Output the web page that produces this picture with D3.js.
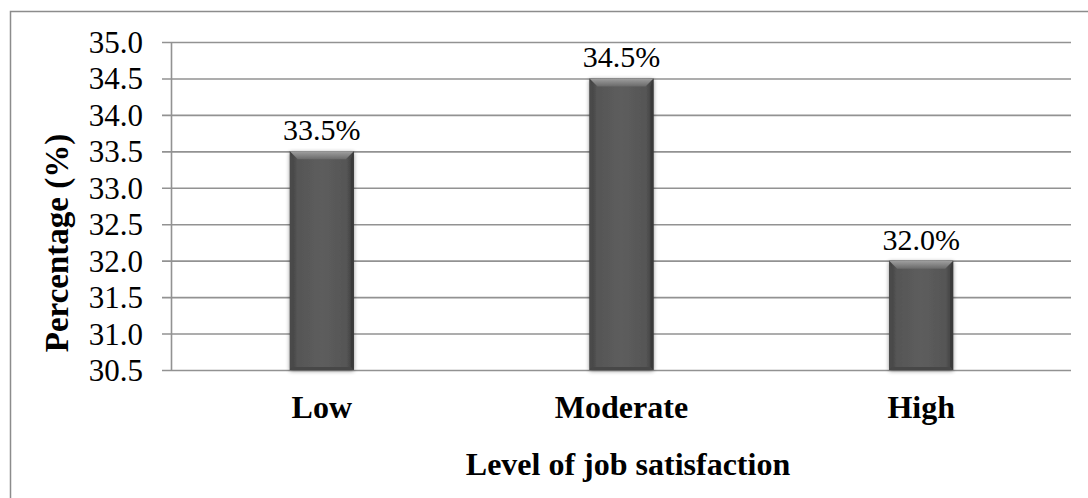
<!DOCTYPE html>
<html>
<head>
<meta charset="utf-8">
<script src="https://cdn.jsdelivr.net/npm/d3@7/dist/d3.min.js"></script>
<style>
  html, body { margin: 0; padding: 0; background: #fff; }
  svg text { font-family: "Liberation Serif", "Times New Roman", "DejaVu Serif", serif; }
</style>
</head>
<body>
<svg id="chart" width="1088" height="498"></svg>
<script>
// Job satisfaction levels and their share of respondents (%)
const categories = ["Low", "Moderate", "High"];
const percentages = [33.5, 34.5, 32.0];
const yTicks = [30.5, 31.0, 31.5, 32.0, 32.5, 33.0, 33.5, 34.0, 34.5, 35.0];

const svg = d3.select("#chart");
const W = 1088, H = 498;
const plot = { left: 172, right: 1071, top: 42, bottom: 370 };
const SERIF = "'Liberation Serif', 'Times New Roman', 'DejaVu Serif', serif";

// Frame around the chart area (left and top edges sit inside the canvas)
svg.append("path")
  .attr("d", `M10.5,${H} L10.5,11.5 L${W},11.5`)
  .attr("fill", "none").attr("stroke", "#8c8c8c").attr("stroke-width", 1.5);

const x = d3.scaleBand().domain(categories).range([plot.left, plot.right]).padding(0);
const y = d3.scaleLinear().domain([30.5, 35.0]).range([plot.bottom, plot.top]);

const defs = svg.append("defs");
const body = defs.append("linearGradient").attr("id", "barBody").attr("x1", "0").attr("x2", "1").attr("y1", "0").attr("y2", "0");
[[0, "#3e3e3e"], [0.12, "#565656"], [0.5, "#5d5d5d"], [0.88, "#565656"], [1, "#3c3c3c"]]
  .forEach(([o, c]) => body.append("stop").attr("offset", o).attr("stop-color", c));
const topGrad = defs.append("linearGradient").attr("id", "barTop").attr("x1", "0").attr("x2", "0").attr("y1", "0").attr("y2", "1");
[[0, "#a0a0a0"], [1, "#6a6a6a"]].forEach(([o, c]) => topGrad.append("stop").attr("offset", o).attr("stop-color", c));
const shadow = defs.append("filter").attr("id", "barShadow").attr("x", "-30%").attr("y", "-10%").attr("width", "160%").attr("height", "120%");
shadow.append("feGaussianBlur").attr("in", "SourceAlpha").attr("stdDeviation", 2.2).attr("result", "b");
shadow.append("feOffset").attr("in", "b").attr("dx", 0).attr("dy", 1).attr("result", "o");
shadow.append("feComponentTransfer").attr("in", "o").attr("result", "s")
  .append("feFuncA").attr("type", "linear").attr("slope", 0.45);
const merge = shadow.append("feMerge");
merge.append("feMergeNode").attr("in", "s");
merge.append("feMergeNode").attr("in", "SourceGraphic");

// Horizontal gridlines with short ticks left of the axis
const yAxis = d3.axisLeft(y).tickValues(yTicks).tickFormat(d3.format(".1f"))
  .tickSize(-(plot.right - plot.left)).tickPadding(0);
const gy = svg.append("g").attr("transform", `translate(${plot.left},0)`).call(yAxis);
gy.attr("font-family", null);
gy.select(".domain").remove();
gy.selectAll(".tick line").attr("x1", -10).attr("stroke", "#929292").attr("stroke-width", 1.6);
gy.selectAll(".tick text")
  .attr("x", -29).attr("dy", "0.34em")
  .style("font-family", SERIF).style("font-size", "31px").style("font-weight", "400")
  .attr("fill", "#000");

// Vertical axis line
svg.append("line").attr("x1", plot.left - 0.5).attr("x2", plot.left - 0.5)
  .attr("y1", plot.top).attr("y2", plot.bottom)
  .attr("stroke", "#929292").attr("stroke-width", 1.6);

// Bars
const barW = 64, bev = 8, side = 3;
const bars = svg.append("g").selectAll("g.bar").data(categories).join("g").attr("class", "bar");
bars.each(function (c, i) {
  const g = d3.select(this);
  const cx = x(c) + x.bandwidth() / 2;
  const x0 = cx - barW / 2, x1 = cx + barW / 2;
  const y0 = y(percentages[i]), y1 = y(30.5);
  g.append("rect").attr("x", x0).attr("y", y0).attr("width", barW).attr("height", y1 - y0)
    .attr("fill", "url(#barBody)").attr("filter", "url(#barShadow)");
  // top bevel
  g.append("path")
    .attr("d", `M${x0},${y0} L${x1},${y0} L${x1 - bev},${y0 + bev} L${x0 + bev},${y0 + bev} Z`)
    .attr("fill", "url(#barTop)");
  // side bevels
  g.append("path")
    .attr("d", `M${x0},${y0} L${x0 + side},${y0 + bev} L${x0 + side},${y1 - side} L${x0},${y1} Z`)
    .attr("fill", "#4a4a4a");
  g.append("path")
    .attr("d", `M${x1},${y0} L${x1 - side},${y0 + bev} L${x1 - side},${y1 - side} L${x1},${y1} Z`)
    .attr("fill", "#3a3a3a");
  // bottom bevel
  g.append("path")
    .attr("d", `M${x0},${y1} L${x0 + side},${y1 - side} L${x1 - side},${y1 - side} L${x1},${y1} Z`)
    .attr("fill", "#474747");
  // value label
  g.append("text").attr("x", cx).attr("y", y0 - 11)
    .attr("text-anchor", "middle").style("font-size", "30px").style("font-weight", "400").attr("fill", "#000")
    .text(d3.format(".1f")(percentages[i]) + "%");
});

// Category labels
svg.append("g").selectAll("text").data(categories).join("text")
  .attr("x", d => x(d) + x.bandwidth() / 2).attr("y", 418)
  .attr("text-anchor", "middle").style("font-size", "32px").style("font-weight", "bold")
  .text(d => d);

// Axis titles
svg.append("text").attr("x", 628).attr("y", 475)
  .attr("text-anchor", "middle").style("font-size", "32px").style("font-weight", "bold")
  .text("Level of job satisfaction");
svg.append("text")
  .attr("transform", "translate(68,243) rotate(-90)")
  .attr("text-anchor", "middle").style("font-size", "33px").style("font-weight", "bold")
  .text("Percentage (%)");
</script>
</body>
</html>
